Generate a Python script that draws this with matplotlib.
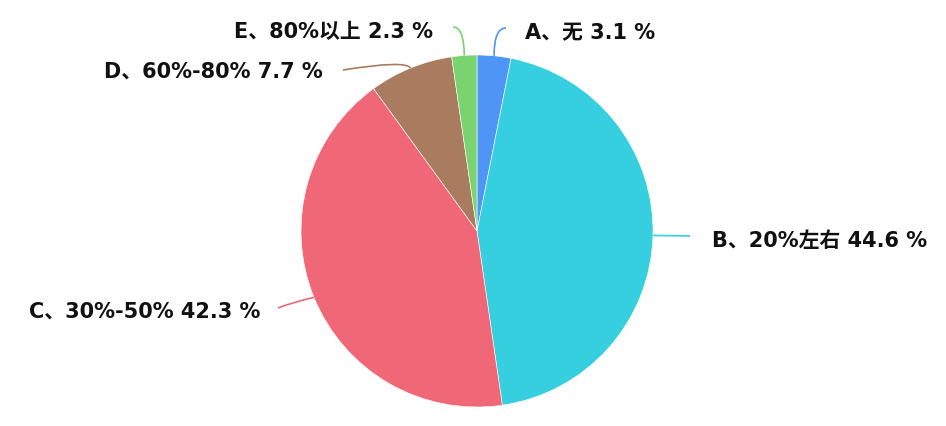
import numpy as np
import matplotlib
matplotlib.use("Agg")
import matplotlib.pyplot as plt
from matplotlib.path import Path
from matplotlib.patches import PathPatch

plt.rcParams["font.family"] = ["DejaVu Sans", "Noto Sans CJK SC"]

labels = ["A、无", "B、20%左右", "C、30%-50%", "D、60%-80%", "E、80%以上"]
values = [3.1, 44.6, 42.3, 7.7, 2.3]
colors = ["#4f95f6", "#36cfdf", "#f06878", "#a97c60", "#79d470"]

W, H = 946, 426
cx, cy, r = 477, H - 231, 176

# label layout in pixel coords (y from top): knee, line end, text anchor, ha
layout = [
    ((494, 28), (506, 28), (525, 33), "left"),
    ((690, 236), (690, 236), (712, 241), "left"),
    ((290, 303), (278, 308), (260, 312), "right"),
    ((405, 60), (343, 70), (323, 72), "right"),
    ((464, 27), (453, 27), (433, 32), "right"),
]

fig = plt.figure(figsize=(W / 100, H / 100), dpi=100)
ax = fig.add_axes([0, 0, 1, 1])

wedges, _ = ax.pie(values, colors=colors, startangle=90, counterclock=False,
                   center=(cx, cy), radius=r, frame=True,
                   wedgeprops=dict(edgecolor="white", linewidth=0.4))
ax.set_xlim(0, W)
ax.set_ylim(0, H)
ax.axis("off")

for w, lab, val, col, (knee, end, txt, ha) in zip(wedges, labels, values, colors, layout):
    mid = np.deg2rad((w.theta1 + w.theta2) / 2)
    p0 = (cx + r * np.cos(mid), cy + r * np.sin(mid))
    p1 = (knee[0], H - knee[1])
    p2 = (end[0], H - end[1])
    path = Path([p0, p1, p2], [Path.MOVETO, Path.CURVE3, Path.CURVE3])
    ax.add_patch(PathPatch(path, fill=False, edgecolor=col, linewidth=1.2))
    ax.text(txt[0], H - txt[1], f"{lab} {val} %", ha=ha, va="center",
            fontsize=15, fontweight="bold", color="#111111")

fig.savefig("out.png", dpi=100, facecolor="white")
